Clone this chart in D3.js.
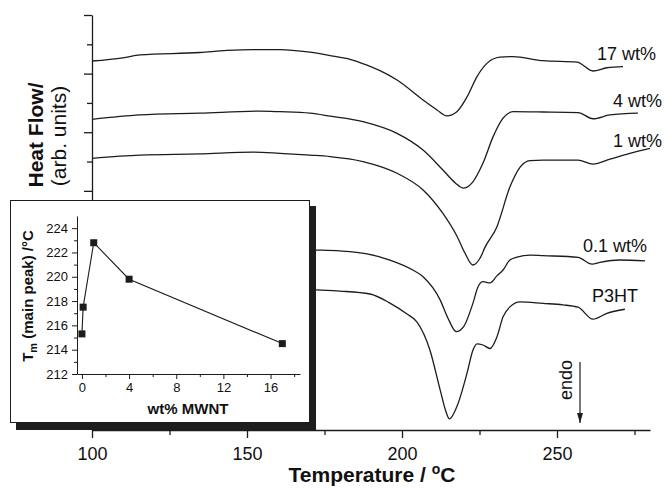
<!DOCTYPE html>
<html>
<head>
<meta charset="utf-8">
<script src="https://cdn.jsdelivr.net/npm/d3@7"></script>
<style>
  html, body { margin: 0; padding: 0; background: #fff; }
  svg { display: block; }
  text { font-family: "Liberation Sans", Arial, Helvetica, sans-serif; fill: #111; }
</style>
</head>
<body>
<svg id="chart" width="665" height="488"></svg>
<script>
// DSC heating traces: [temperature °C, heat flow (arb. units)]
const trace17 = [
  [100,12.43],[110,12.54],[115.5,12.64],[134.8,12.72],[143.5,12.79],[151.9,12.82],[160.6,12.82],
  [170.3,12.73],[177.7,12.60],[183.2,12.49],[188.7,12.29],[192.9,12.10],[198.4,11.78],[206.8,11.10],
  [211.3,10.76],[214.5,10.56],[217.7,10.70],[221.0,11.21],[224.2,11.90],[227.4,12.35],[231.6,12.56],
  [235.8,12.58],[245.5,12.44],[256.5,12.39],[261.6,12.09],[266.1,12.20],[271.3,12.24]
];
const trace4 = [
  [100,10.44],[115.5,10.59],[134.8,10.65],[154.2,10.72],[160.6,10.70],[170.3,10.65],[176.8,10.55],
  [187.4,10.36],[198.4,9.96],[206.8,9.39],[213.2,8.71],[217.2,8.27],[219.8,8.09],[222.6,8.27],
  [226.1,8.94],[229.4,9.85],[232.6,10.48],[235.8,10.70],[245.5,10.69],[256.8,10.67],[261.6,10.46],
  [267.1,10.59],[276.1,10.65]
];
const trace1 = [
  [100,9.11],[115.5,9.22],[134.8,9.26],[151.9,9.32],[160.6,9.28],[170.3,9.22],[176.8,9.17],
  [187.4,9.00],[198.4,8.60],[206.8,8.03],[213.2,7.23],[217.7,6.46],[220.3,5.88],[222.8,5.47],
  [225.2,5.71],[226.8,6.08],[230.6,6.77],[234.8,8.13],[238.1,8.81],[241.3,9.03],[245.5,9.05],
  [256.8,9.05],[261.6,8.91],[267.1,9.08],[273.5,9.28],[280,9.45]
];
const trace01 = [
  [160,6.00],[172.3,5.98],[180.0,5.95],[188.7,5.85],[196.1,5.64],[203.5,5.30],[206.8,5.07],
  [212.3,4.28],[214.8,3.66],[217.5,3.20],[219.9,3.37],[222.9,4.17],[224.5,4.72],[226.1,4.90],
  [228.4,4.86],[230.6,5.10],[232.6,5.30],[234.8,5.64],[237.1,5.74],[241.3,5.81],[245.5,5.79],
  [256.8,5.73],[261.3,5.50],[263.9,5.56],[270.3,5.64],[278.4,5.61]
];
const traceP3HT = [
  [160,4.63],[172.3,4.62],[180.0,4.58],[189.7,4.48],[196.1,4.17],[201.6,3.80],[204.8,3.53],
  [209.0,2.57],[212.3,1.21],[214.2,0.46],[215.3,0.22],[217.7,0.64],[221.0,1.79],[222.9,2.57],
  [224.2,2.78],[226.1,2.74],[228.4,2.62],[230.6,3.01],[232.6,3.70],[234.8,4.04],[238.1,4.21],
  [245.5,4.16],[251.9,4.11],[256.8,4.03],[261.6,3.62],[266.1,3.82],[271.9,3.96]
];
const traceNames = ["17 wt%", "4 wt%", "1 wt%", "0.1 wt%", "P3HT"];

// main axis ticks
const tempTicks = [100, 125, 150, 175, 200, 225, 250, 275];
const tempLabels = [100, 150, 200, 250];

// inset: main melting peak vs nanotube loading
const mwntLoading = [0, 0.1, 1, 4, 17];
const meltPeak = [215.3, 217.5, 222.8, 219.8, 214.5];
const insetYTicks = [212, 214, 216, 218, 220, 222, 224];
const insetXTicks = [0, 4, 8, 12, 16];

const svg = d3.select("#chart");
const ink = "#1c1c1c";

// ---------- main panel ----------
const x = d3.scaleLinear().domain([100, 280]).range([92, 650]);
const y = d3.scaleLinear().domain([-0.16, 14]).range([430, 15]);

const xAxis = svg.append("g")
  .attr("transform", "translate(0,430)")
  .call(d3.axisBottom(x).tickValues(tempTicks).tickSize(8).tickSizeOuter(0)
    .tickFormat(d => tempLabels.includes(d) ? d : ""));
xAxis.selectAll(".tick line").attr("y2", d => tempLabels.includes(d) ? 8 : 5);
xAxis.selectAll(".tick text").attr("dy", 0).attr("y", 30).style("font-size", "18px");
xAxis.selectAll("path, line").attr("stroke", ink).attr("stroke-width", 1.3);

const yAxis = svg.append("g")
  .attr("transform", "translate(92,0)")
  .call(d3.axisLeft(y).tickValues(d3.range(0, 15)).tickSize(8).tickSizeOuter(0).tickFormat(""));
yAxis.selectAll(".tick line").attr("x2", d => d % 2 === 0 ? -8 : -5);
yAxis.selectAll("path, line").attr("stroke", ink).attr("stroke-width", 1.3);

const line = d3.line().x(d => x(d[0])).y(d => y(d[1])).curve(d3.curveMonotoneX);
[trace17, trace4, trace1, trace01, traceP3HT].forEach(tr => {
  svg.append("path").datum(tr).attr("d", line)
    .attr("fill", "none").attr("stroke", ink).attr("stroke-width", 1.3);
});

// trace labels
const labelAt = [[597, 60], [613, 107], [613, 147], [583, 252], [592, 302]];
traceNames.forEach((n, i) => {
  svg.append("text").attr("x", labelAt[i][0]).attr("y", labelAt[i][1])
    .style("font-size", "18px").text(n);
});

// axis titles
svg.append("text")
  .attr("transform", "translate(43,135) rotate(-90)")
  .attr("text-anchor", "middle")
  .style("font-size", "21px").style("font-weight", "bold")
  .text("Heat Flow/");
svg.append("text")
  .attr("transform", "translate(66,136) rotate(-90)")
  .attr("text-anchor", "middle")
  .style("font-size", "21px")
  .text("(arb. units)");

const xt = svg.append("text")
  .attr("x", 372).attr("y", 482)
  .attr("text-anchor", "middle")
  .style("font-size", "21px").style("font-weight", "bold");
xt.append("tspan").text("Temperature / ");
xt.append("tspan").attr("dy", -8).style("font-size", "14px").text("o");
xt.append("tspan").attr("dy", 8).text("C");

// endotherm direction marker
svg.append("defs").append("marker")
  .attr("id", "arrowhead").attr("viewBox", "0 0 10 10")
  .attr("refX", 10).attr("refY", 5)
  .attr("markerWidth", 10).attr("markerHeight", 10)
  .attr("markerUnits", "userSpaceOnUse")
  .attr("orient", "auto")
  .append("path").attr("d", "M0,2 L10,5 L0,8 Z").attr("fill", ink);
svg.append("line")
  .attr("x1", 580).attr("y1", 362).attr("x2", 580).attr("y2", 423)
  .attr("stroke", ink).attr("stroke-width", 1.2)
  .attr("marker-end", "url(#arrowhead)");
svg.append("text")
  .attr("transform", "translate(572,380) rotate(-90)")
  .attr("text-anchor", "middle")
  .style("font-size", "18px")
  .text("endo");

// ---------- inset panel ----------
svg.append("rect").attr("x", 16).attr("y", 206).attr("width", 300).attr("height", 224)
  .attr("fill", "#1e1e1e");
svg.append("rect").attr("x", 10.5).attr("y", 200.5).attr("width", 299).attr("height", 222)
  .attr("fill", "#fff").attr("stroke", ink).attr("stroke-width", 1);

const ix = d3.scaleLinear().domain([-0.42, 18.5]).range([77, 300]);
const iy = d3.scaleLinear().domain([212, 225]).range([374, 216]);

const ixAxis = svg.append("g")
  .attr("transform", "translate(0,374)")
  .call(d3.axisBottom(ix).tickValues(d3.range(0, 19, 2)).tickSize(5).tickSizeOuter(0)
    .tickFormat(d => insetXTicks.includes(d) ? d : ""));
ixAxis.selectAll(".tick line").attr("y2", d => insetXTicks.includes(d) ? 5 : 3);
ixAxis.selectAll(".tick text").attr("dy", 0).attr("y", 18).style("font-size", "13px");
ixAxis.selectAll("path, line").attr("stroke", ink).attr("stroke-width", 1);

const iyAxis = svg.append("g")
  .attr("transform", "translate(77,0)")
  .call(d3.axisLeft(iy).tickValues(d3.range(212, 225, 1)).tickSize(5).tickSizeOuter(0)
    .tickFormat(d => insetYTicks.includes(d) ? d : ""));
iyAxis.selectAll(".tick line").attr("x2", d => insetYTicks.includes(d) ? -5 : -3);
iyAxis.selectAll(".tick text").attr("x", -9).style("font-size", "13px");
iyAxis.selectAll("path, line").attr("stroke", ink).attr("stroke-width", 1);

const insetPts = mwntLoading.map((w, i) => [w, meltPeak[i]]);
svg.append("path").datum(insetPts)
  .attr("d", d3.line().x(d => ix(d[0])).y(d => iy(d[1])))
  .attr("fill", "none").attr("stroke", ink).attr("stroke-width", 1.1);
svg.selectAll("rect.pt").data(insetPts).join("rect").attr("class", "pt")
  .attr("x", d => ix(d[0]) - 3.5).attr("y", d => iy(d[1]) - 3.5)
  .attr("width", 7).attr("height", 7).attr("fill", ink);

svg.append("text")
  .attr("x", 188).attr("y", 414)
  .attr("text-anchor", "middle")
  .style("font-size", "15px").style("font-weight", "bold")
  .text("wt% MWNT");

const iyt = svg.append("text")
  .attr("transform", "translate(33,296) rotate(-90)")
  .attr("text-anchor", "middle")
  .style("font-size", "15px").style("font-weight", "bold");
iyt.append("tspan").text("T");
iyt.append("tspan").attr("dy", 4).style("font-size", "11px").text("m");
iyt.append("tspan").attr("dy", -4).text(" (main peak) /°C");
</script>
</body>
</html>
